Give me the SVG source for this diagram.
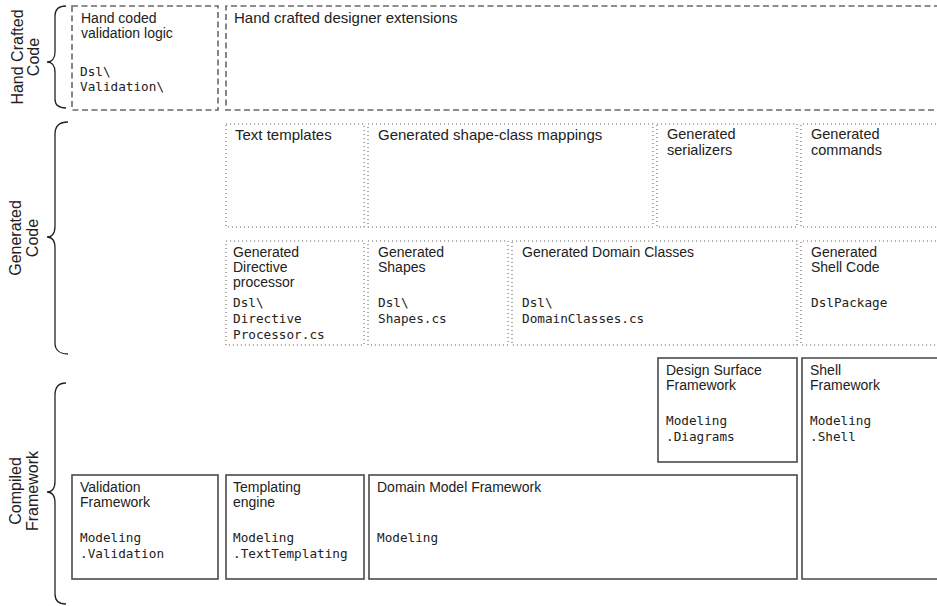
<svg xmlns="http://www.w3.org/2000/svg" width="937" height="606" viewBox="0 0 937 606">
<style>
text{font-family:"Liberation Sans",Arial,sans-serif;fill:#222}
.t15{font-size:15px}
.t145{font-size:14.5px}
.t14{font-size:14px}
.lbl{font-size:16px;text-anchor:middle}
.mono{font-family:"DejaVu Sans Mono","Liberation Mono",monospace;font-size:12.7px}
.dash{fill:none;stroke:#6a6a6a;stroke-width:1.6;stroke-dasharray:6 3.5}
.dot{fill:none;stroke:#666;stroke-width:1.1;stroke-dasharray:1.1 2.9}
.solid{fill:none;stroke:#4a4a4a;stroke-width:1.6}
.brace{fill:none;stroke:#222;stroke-width:1.3}
</style>
<rect width="937" height="606" fill="#fff"/>

<g id="braces">
<path class="brace" d="M66,6 C59,6 55,9 55,16 L55,52 C55,58 52,62 47,62 C52,62 55,66 55,72 L55,99 C55,105 59,108 66,108"/>
<path class="brace" d="M68,122 C60,122 55,126 55,134 L55,226 C55,233 52,237 47,237 C52,237 55,241 55,248 L55,343 C55,350 60,354 68,354"/>
<path class="brace" d="M66,383 C59,383 55,387 55,395 L55,481 C55,488 52,492 47,492 C52,492 55,496 55,503 L55,594 C55,601 59,604 66,604"/>
</g>

<g id="labels">
<text class="lbl" transform="translate(23,57) rotate(-90)">Hand Crafted</text>
<text class="lbl" transform="translate(39,57) rotate(-90)">Code</text>
<text class="lbl" transform="translate(21,238) rotate(-90)">Generated</text>
<text class="lbl" transform="translate(38,238) rotate(-90)">Code</text>
<text class="lbl" transform="translate(21,491) rotate(-90)">Compiled</text>
<text class="lbl" transform="translate(38,491) rotate(-90)">Framework</text>
</g>

<g id="hand-coded-validation">
<rect class="dash" x="72" y="6" width="146" height="104"/>
<text class="t14" x="81" y="23">Hand coded</text>
<text class="t14" x="81" y="38">validation logic</text>
<text class="mono" x="80" y="76">Dsl\</text>
<text class="mono" x="80" y="91">Validation\</text>
</g>

<g id="hand-crafted-extensions">
<path class="dash" d="M940,6 H226 V110 H940"/>
<text class="t15" x="234" y="23">Hand crafted designer extensions</text>
</g>

<g id="text-templates">
<rect class="dot" x="226" y="124" width="138" height="103"/>
<text class="t15" x="235" y="140">Text templates</text>
</g>

<g id="shape-class-mappings">
<rect class="dot" x="368" y="124" width="285" height="103"/>
<text class="t15" x="378" y="140">Generated shape-class mappings</text>
</g>

<g id="serializers">
<rect class="dot" x="657" y="124" width="140" height="103"/>
<text class="t145" x="667" y="139">Generated</text>
<text class="t145" x="667" y="155">serializers</text>
</g>

<g id="commands">
<path class="dot" d="M940,124 H801 V227 H940"/>
<text class="t145" x="811" y="139">Generated</text>
<text class="t145" x="811" y="155">commands</text>
</g>

<g id="directive-processor">
<rect class="dot" x="226" y="241" width="138" height="104"/>
<text class="t14" x="233" y="257">Generated</text>
<text class="t14" x="233" y="272">Directive</text>
<text class="t14" x="233" y="287">processor</text>
<text class="mono" x="233" y="307">Dsl\</text>
<text class="mono" x="233" y="323">Directive</text>
<text class="mono" x="233" y="339">Processor.cs</text>
</g>

<g id="shapes">
<rect class="dot" x="368" y="241" width="140" height="104"/>
<text class="t14" x="378" y="257">Generated</text>
<text class="t14" x="378" y="272">Shapes</text>
<text class="mono" x="378" y="307">Dsl\</text>
<text class="mono" x="378" y="323">Shapes.cs</text>
</g>

<g id="domain-classes">
<rect class="dot" x="512" y="241" width="285" height="104"/>
<text class="t14" x="522" y="257">Generated Domain Classes</text>
<text class="mono" x="522" y="307">Dsl\</text>
<text class="mono" x="522" y="323">DomainClasses.cs</text>
</g>

<g id="shell-code">
<path class="dot" d="M940,241 H801 V345 H940"/>
<text class="t14" x="811" y="257">Generated</text>
<text class="t14" x="811" y="272">Shell Code</text>
<text class="mono" x="811" y="307">DslPackage</text>
</g>

<g id="design-surface-framework">
<rect class="solid" x="658" y="358" width="139" height="104"/>
<text class="t14" x="666" y="375">Design Surface</text>
<text class="t14" x="666" y="390">Framework</text>
<text class="mono" x="666" y="425">Modeling</text>
<text class="mono" x="666" y="441">.Diagrams</text>
</g>

<g id="shell-framework">
<path class="solid" d="M940,358 H802 V579 H940"/>
<text class="t14" x="810" y="375">Shell</text>
<text class="t14" x="810" y="390">Framework</text>
<text class="mono" x="810" y="425">Modeling</text>
<text class="mono" x="810" y="441">.Shell</text>
</g>

<g id="validation-framework">
<rect class="solid" x="72" y="475" width="146" height="104"/>
<text class="t14" x="80" y="492">Validation</text>
<text class="t14" x="80" y="507">Framework</text>
<text class="mono" x="80" y="542">Modeling</text>
<text class="mono" x="80" y="558">.Validation</text>
</g>

<g id="templating-engine">
<rect class="solid" x="226" y="475" width="138" height="104"/>
<text class="t14" x="233" y="492">Templating</text>
<text class="t14" x="233" y="507">engine</text>
<text class="mono" x="233" y="542">Modeling</text>
<text class="mono" x="233" y="558">.TextTemplating</text>
</g>

<g id="domain-model-framework">
<rect class="solid" x="369" y="475" width="428" height="104"/>
<text class="t14" x="377" y="492">Domain Model Framework</text>
<text class="mono" x="377" y="542">Modeling</text>
</g>

<g id="connectors"></g>
</svg>
